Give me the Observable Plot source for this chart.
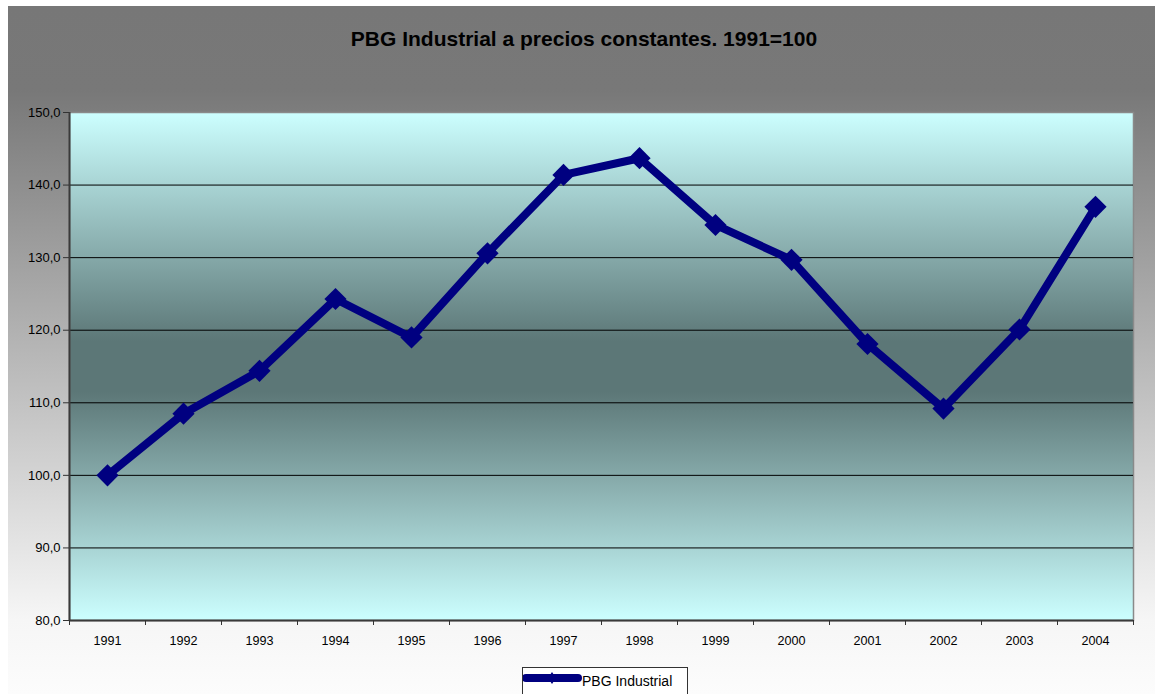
<!DOCTYPE html>
<html><head><meta charset="utf-8">
<script src="https://cdn.jsdelivr.net/npm/d3@7"></script>
<script src="https://cdn.jsdelivr.net/npm/@observablehq/plot@0.6"></script>
<style>
html,body{margin:0;padding:0;background:#fff;}
#chart{position:absolute;left:8px;top:6px;width:1147px;height:688px;overflow:hidden;
background:linear-gradient(to bottom,#777 0px,#787878 84px,#f6f6f6 614px,#fcfcfc 688px);
font-family:"Liberation Sans",Arial,sans-serif;}
#title{height:70px;box-sizing:border-box;padding-top:22px;padding-left:5px;line-height:21px;font-size:21px;font-weight:bold;text-align:center;color:#000;}
#plot{height:580px;}
#legend{position:absolute;left:514px;top:661px;width:164px;height:40px;background:#fff;border:1px solid #333;}
</style></head><body>
<div id="chart">
  <div id="title">PBG Industrial a precios constantes. 1991=100</div>
  <div id="plot"></div>
  <div id="legend"></div>
</div>
<script>
const years = [1991, 1992, 1993, 1994, 1995, 1996, 1997, 1998, 1999, 2000, 2001, 2002, 2003, 2004];
const values = [100.0, 108.5, 114.4, 124.3, 119.0, 130.6, 141.4, 143.7, 134.5, 129.7, 118.1, 109.2, 120.1, 137.0];
const yTicks = [80, 90, 100, 110, 120, 130, 140, 150];
const seriesName = "PBG Industrial";

const data = years.map((year, i) => ({year, value: values[i]}));
const W = 1147, H = 580, mL = 61, mR = 22, mT = 36, mB = 36;
const half = (W - mL - mR) / years.length / 2;
const navy = "#000080";

const defs = () => {
  const d = d3.create("svg:defs");
  const g = d.append("linearGradient").attr("id", "plotBg")
    .attr("x1", 0).attr("y1", 0).attr("x2", 0).attr("y2", 1);
  [[0, "#ccffff"], [0.45, "#5c7777"], [0.55, "#5c7777"], [1, "#ccffff"]]
    .forEach(([o, c]) => g.append("stop").attr("offset", o).attr("stop-color", c));
  return d.node();
};
const fmt = d => d.toFixed(1).replace(".", ",");

const chart = Plot.plot({
  width: W, height: H,
  marginLeft: mL, marginRight: mR, marginTop: mT, marginBottom: mB,
  style: {background: "transparent", fontFamily: '"Liberation Sans", Arial, sans-serif', fontSize: "13px", color: "#000", overflow: "visible"},
  x: {type: "point", domain: years, padding: 0.5, label: null},
  y: {domain: [80, 150], label: null},
  marks: [
    defs,
    Plot.frame({fill: "url(#plotBg)", stroke: "#8a8a8a", strokeWidth: 1.5}),
    Plot.ruleY(yTicks.filter(t => t > 80 && t < 150), {stroke: "#000", strokeWidth: 1}),
    Plot.ruleX([years[0]], {dx: -half, y1: 80, y2: 150, stroke: "#3a3a3a", strokeWidth: 2}),
    Plot.ruleY([80], {stroke: "#3a3a3a", strokeWidth: 2}),
    Plot.axisY({ticks: yTicks, tickFormat: fmt, tickSize: 6, tickPadding: 3, stroke: "#333", fontSize: 13, label: null}),
    Plot.axisX({ticks: years, tickSize: 0, tickPadding: 16, fontSize: 12.6, tickFormat: d => String(d), label: null}),
    Plot.axisX({ticks: years, tickSize: 5, dx: -half, tickFormat: () => "", stroke: "#333", label: null}),
    Plot.axisX({ticks: [years[years.length - 1]], tickSize: 5, dx: half, tickFormat: () => "", stroke: "#333", label: null}),
    Plot.line(data, {x: "year", y: "value", stroke: navy, strokeWidth: 8, strokeLinejoin: "round"}),
    Plot.dot(data, {x: "year", y: "value", symbol: "diamond2", r: 10, fill: navy})
  ]
});
document.getElementById("plot").appendChild(chart);

// legend
const lg = d3.select("#legend").append("svg").attr("width", 164).attr("height", 38)
  .style("position", "absolute").style("left", 0).style("top", 0);
lg.append("line").attr("x1", 3).attr("x2", 55).attr("y1", 10).attr("y2", 10)
  .attr("stroke", navy).attr("stroke-width", 8).attr("stroke-linecap", "round");
lg.append("path").attr("d", "M29,4L33,10L29,16L25,10Z").attr("fill", navy);
lg.append("text").attr("x", 59).attr("y", 18).attr("font-size", 14)
  .attr("font-family", '"Liberation Sans", Arial, sans-serif').attr("fill", "#000").text(seriesName);
</script>
</body></html>
